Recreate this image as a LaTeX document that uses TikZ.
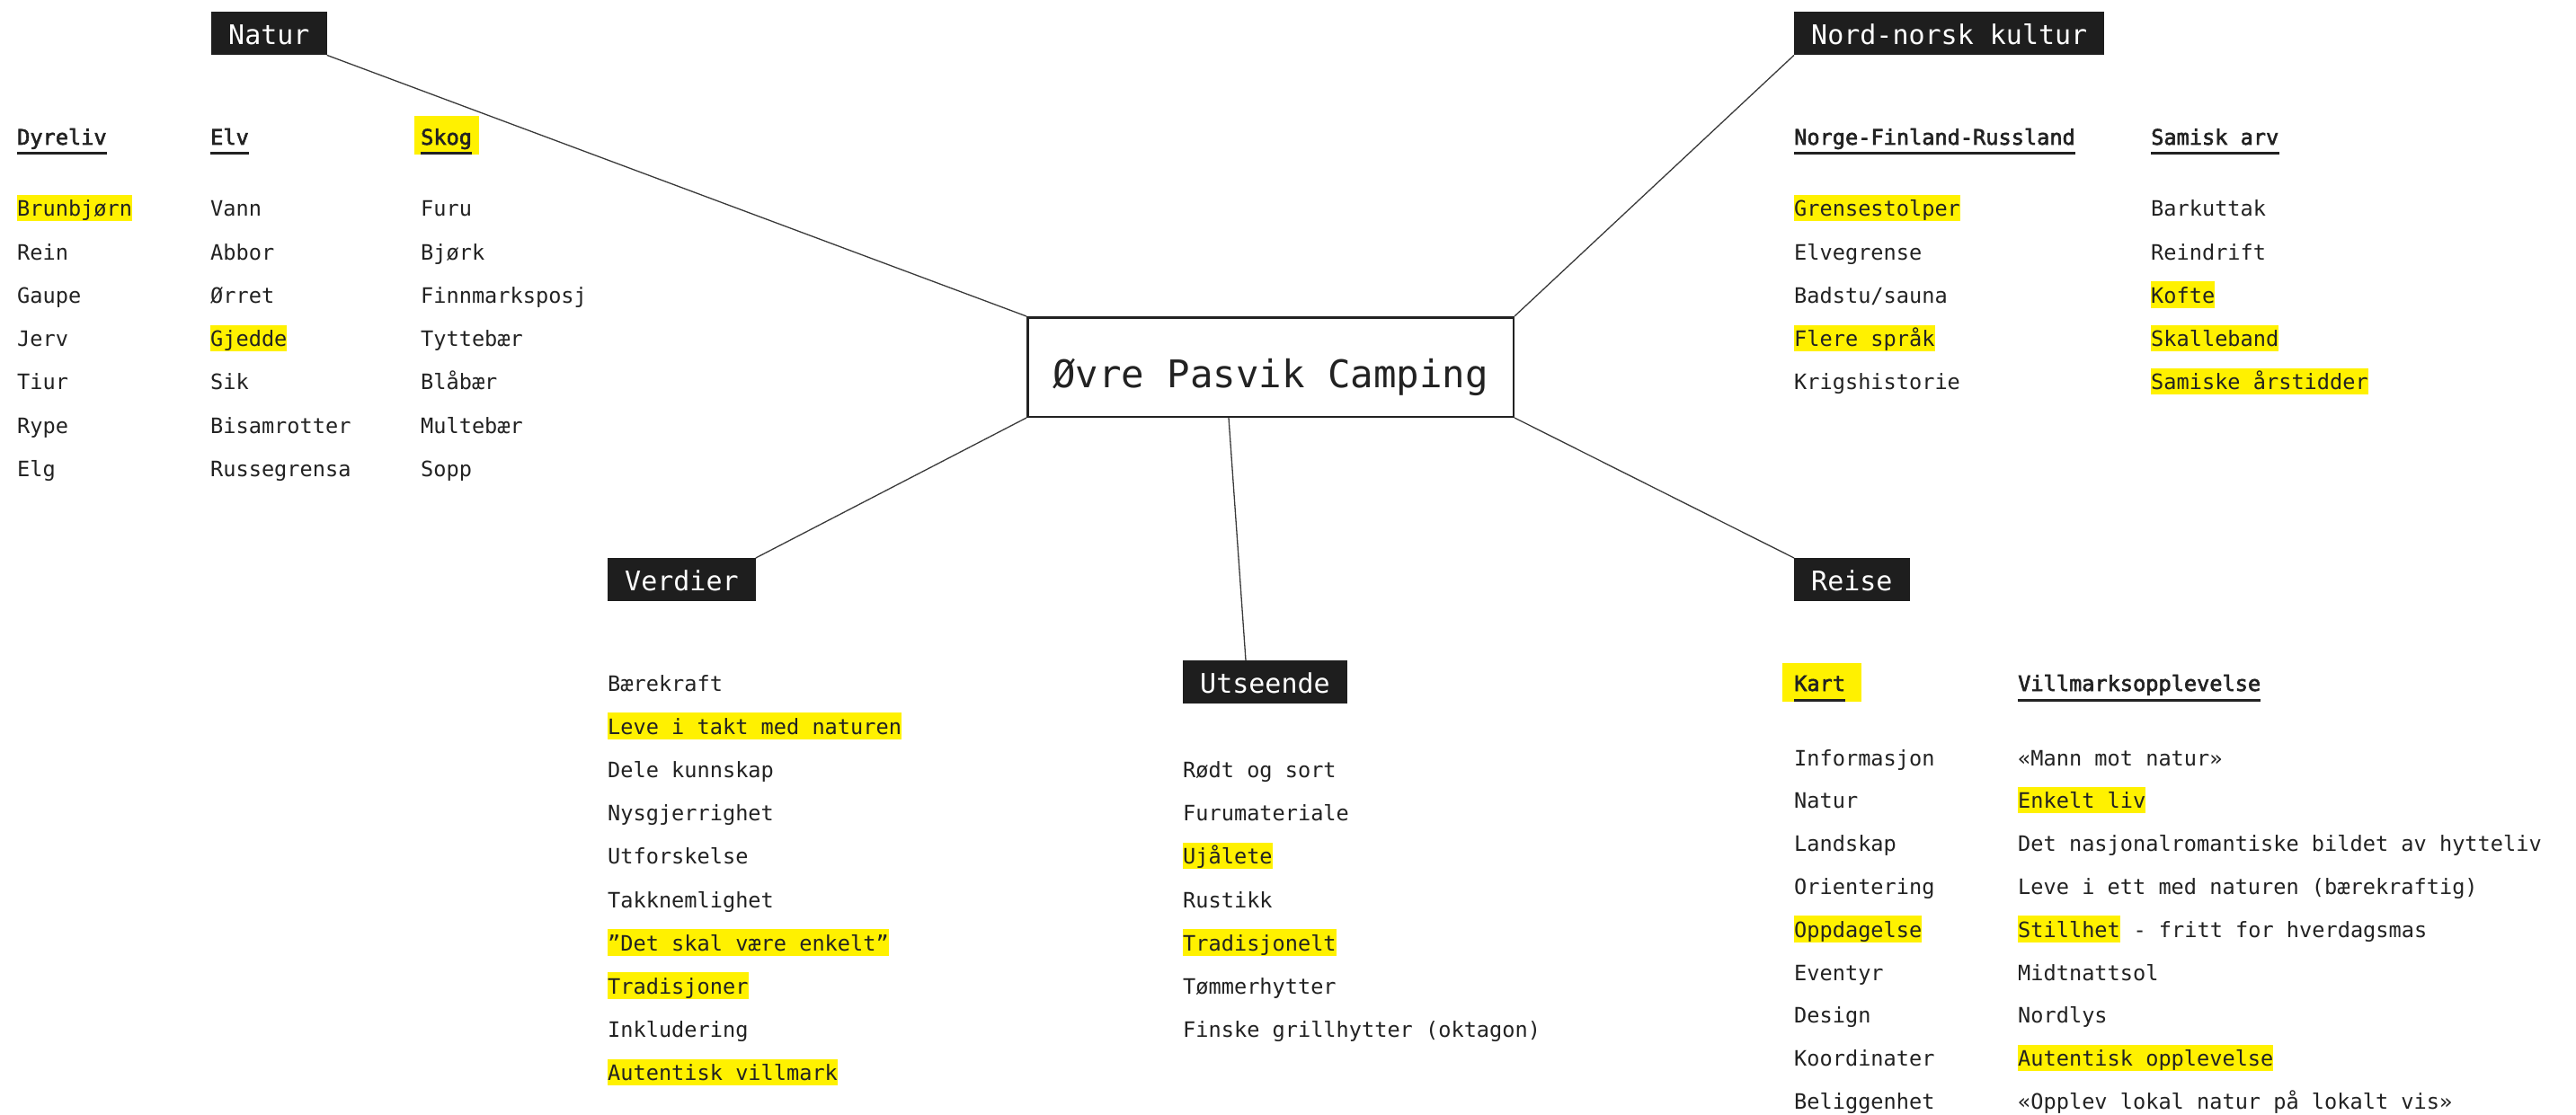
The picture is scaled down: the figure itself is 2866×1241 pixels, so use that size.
\documentclass[tikz,border=0pt]{standalone}
\usepackage{fontspec}
\setmainfont{DejaVu Sans Mono}
\newfontfamily\headfont[FakeBold=2.5]{DejaVu Sans Mono}
\usetikzlibrary{backgrounds}
\definecolor{hlc}{HTML}{FFF100}
\definecolor{ink}{HTML}{222222}
\definecolor{boxc}{HTML}{1E1E1E}
\definecolor{linec}{HTML}{3A3A3A}
\begin{document}
\begin{tikzpicture}[x=1pt,y=-1pt,
  item/.style={anchor=base west, inner sep=0pt, text height=24pt, text depth=5.5pt, font=\fontsize{23.6}{28}\selectfont, text=ink},
  hl/.style={fill=hlc},
  head/.style={anchor=base west, inner sep=0pt, text height=24pt, text depth=5.5pt, font=\headfont\fontsize{23.6}{28}\selectfont, text=ink},
  ul/.style={line width=3pt, draw=ink},
  title/.style={anchor=north west, fill=boxc, text=white, inner xsep=19pt, inner ysep=0pt, minimum height=48pt, text height=28pt, text depth=4pt, font=\fontsize{30}{36}\selectfont},
  hub/.style={draw=ink, line width=2.5pt, minimum width=540.5pt, minimum height=110.5pt, inner sep=0pt, text height=45pt, text depth=0pt, font=\fontsize{42.4}{50}\selectfont, text=ink},
  link/.style={draw=linec, line width=1.3pt}
]
\begin{scope}[on background layer]
\fill[white] (0,0) rectangle (2866,1241);
\end{scope}
\useasboundingbox (0,0) rectangle (2866,1241);

% hub and category boxes
\node[hub] (c) at (1413.5,408.5) {Øvre Pasvik Camping};
\node[title] (natur) at (235,13) {Natur};
\node[title] (nord) at (1996,13) {Nord-norsk kultur};
\node[title] (verd) at (676,621) {Verdier};
\node[title] (ut) at (1316,735) {Utseende};
\node[title] (reise) at (1996,621) {Reise};

% connectors
\draw[link] (natur.south east) -- (c.north west);
\draw[link] (nord.south west) -- (c.north east);
\draw[link] (verd.north east) -- (c.south west);
\draw[link] ([xshift=-46.5pt]c.south) -- ([xshift=70pt]ut.north west);
\draw[link] (c.south east) -- (reise.north west);

% ---------------- Natur ----------------
\node[head] (hdyr) at (19,161) {Dyreliv};
\node[head] (helv) at (234,161) {Elv};
\node[head] (hskog) at (468,161) {Skog};
\begin{scope}[on background layer]
\fill[hlc] ([xshift=-7pt,yshift=32pt]hskog.base west) rectangle ([xshift=8pt,yshift=-11pt]hskog.base east);
\end{scope}
\foreach \n in {hdyr,helv,hskog}
  \draw[ul] ([yshift=-9.5pt]\n.base west) -- ([yshift=-9.5pt]\n.base east);

\node[item,hl] (dy0) at (19,241) {Brunbjørn};
\node[item] (dy1) at (19,289.2) {Rein};
\node[item] (dy2) at (19,337.4) {Gaupe};
\node[item] (dy3) at (19,385.6) {Jerv};
\node[item] (dy4) at (19,433.8) {Tiur};
\node[item] (dy5) at (19,482) {Rype};
\node[item] (dy6) at (19,530.2) {Elg};

\node[item] (el0) at (234,241) {Vann};
\node[item] (el1) at (234,289.2) {Abbor};
\node[item] (el2) at (234,337.4) {Ørret};
\node[item,hl] (el3) at (234,385.6) {Gjedde};
\node[item] (el4) at (234,433.8) {Sik};
\node[item] (el5) at (234,482) {Bisamrotter};
\node[item] (el6) at (234,530.2) {Russegrensa};

\node[item] (sk0) at (468,241) {Furu};
\node[item] (sk1) at (468,289.2) {Bjørk};
\node[item] (sk2) at (468,337.4) {Finnmarksposj};
\node[item] (sk3) at (468,385.6) {Tyttebær};
\node[item] (sk4) at (468,433.8) {Blåbær};
\node[item] (sk5) at (468,482) {Multebær};
\node[item] (sk6) at (468,530.2) {Sopp};

% ---------------- Nord-norsk kultur ----------------
\node[head] (hnfr) at (1996,161) {Norge-Finland-Russland};
\node[head] (hsam) at (2393,161) {Samisk arv};
\foreach \n in {hnfr,hsam}
  \draw[ul] ([yshift=-9.5pt]\n.base west) -- ([yshift=-9.5pt]\n.base east);

\node[item,hl] (nf0) at (1996,241) {Grensestolper};
\node[item] (nf1) at (1996,289.2) {Elvegrense};
\node[item] (nf2) at (1996,337.4) {Badstu/sauna};
\node[item,hl] (nf3) at (1996,385.6) {Flere språk};
\node[item] (nf4) at (1996,433.8) {Krigshistorie};

\node[item] (sa0) at (2393,241) {Barkuttak};
\node[item] (sa1) at (2393,289.2) {Reindrift};
\node[item,hl] (sa2) at (2393,337.4) {Kofte};
\node[item,hl] (sa3) at (2393,385.6) {Skalleband};
\node[item,hl] (sa4) at (2393,433.8) {Samiske årstidder};

% ---------------- Verdier ----------------
\node[item] (ve0) at (676,769) {Bærekraft};
\node[item,hl] (ve1) at (676,817.2) {Leve i takt med naturen};
\node[item] (ve2) at (676,865.4) {Dele kunnskap};
\node[item] (ve3) at (676,913.6) {Nysgjerrighet};
\node[item] (ve4) at (676,961.8) {Utforskelse};
\node[item] (ve5) at (676,1010) {Takknemlighet};
\node[item,hl] (ve6) at (676,1058.2) {”Det skal være enkelt”};
\node[item,hl] (ve7) at (676,1106.4) {Tradisjoner};
\node[item] (ve8) at (676,1154.6) {Inkludering};
\node[item,hl] (ve9) at (676,1202.8) {Autentisk villmark};

% ---------------- Utseende ----------------
\node[item] (us0) at (1316,865.4) {Rødt og sort};
\node[item] (us1) at (1316,913.6) {Furumateriale};
\node[item,hl] (us2) at (1316,961.8) {Ujålete};
\node[item] (us3) at (1316,1010) {Rustikk};
\node[item,hl] (us4) at (1316,1058.2) {Tradisjonelt};
\node[item] (us5) at (1316,1106.4) {Tømmerhytter};
\node[item] (us6) at (1316,1154.6) {Finske grillhytter (oktagon)};

% ---------------- Reise ----------------
\node[head] (hkart) at (1996,769) {Kart};
\node[head] (hvill) at (2245,769) {Villmarksopplevelse};
\begin{scope}[on background layer]
\fill[hlc] ([xshift=-13pt,yshift=31pt]hkart.base west) rectangle ([xshift=18pt,yshift=-12pt]hkart.base east);
\end{scope}
\foreach \n in {hkart,hvill}
  \draw[ul] ([yshift=-10pt]\n.base west) -- ([yshift=-10pt]\n.base east);

\node[item] (ka0) at (1996,852) {Informasjon};
\node[item] (ka1) at (1996,899.8) {Natur};
\node[item] (ka2) at (1996,947.6) {Landskap};
\node[item] (ka3) at (1996,995.4) {Orientering};
\node[item,hl] (ka4) at (1996,1043.2) {Oppdagelse};
\node[item] (ka5) at (1996,1091) {Eventyr};
\node[item] (ka6) at (1996,1138.8) {Design};
\node[item] (ka7) at (1996,1186.6) {Koordinater};
\node[item] (ka8) at (1996,1234.4) {Beliggenhet};

\node[item] (vi0) at (2245,852) {«Mann mot natur»};
\node[item,hl] (vi1) at (2245,899.8) {Enkelt liv};
\node[item] (vi2) at (2245,947.6) {Det nasjonalromantiske bildet av hytteliv};
\node[item] (vi3) at (2245,995.4) {Leve i ett med naturen (bærekraftig)};
\node[item,hl] (vi4) at (2245,1043.2) {Stillhet};
\node[item] (vi4b) at (vi4.base east) {\ - fritt for hverdagsmas};
\node[item] (vi5) at (2245,1091) {Midtnattsol};
\node[item] (vi6) at (2245,1138.8) {Nordlys};
\node[item,hl] (vi7) at (2245,1186.6) {Autentisk opplevelse};
\node[item] (vi8) at (2245,1234.4) {«Opplev lokal natur på lokalt vis»};
\end{tikzpicture}
\end{document}
